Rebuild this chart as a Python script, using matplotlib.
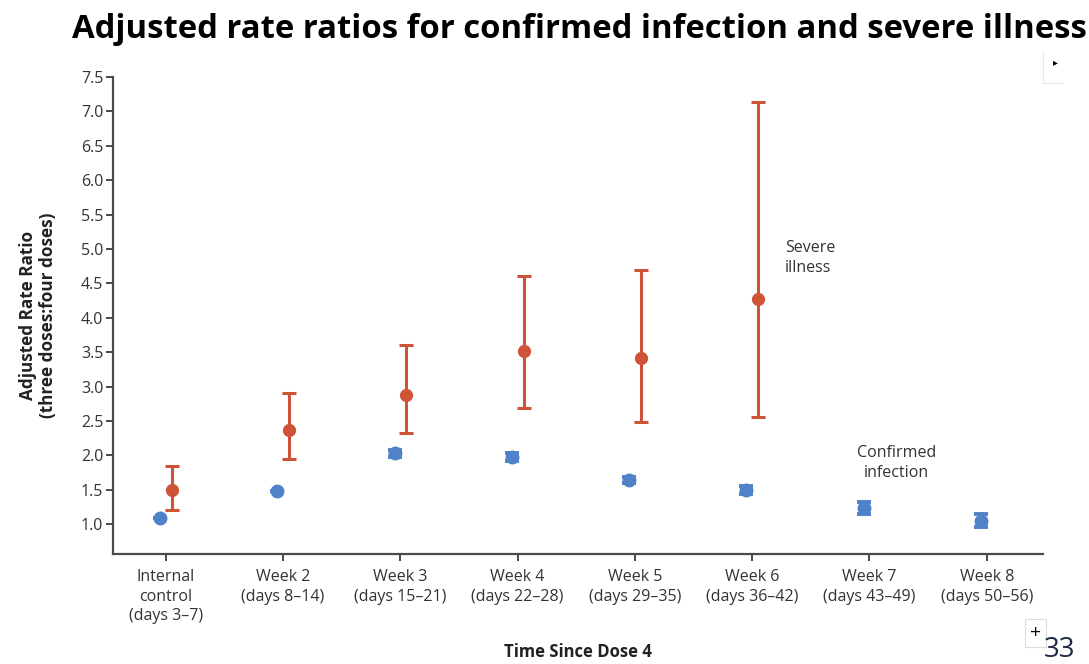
import matplotlib.pyplot as plt
import numpy as np

categories = ["Internal\ncontrol\n(days 3\u20137)", "Week 2\n(days 8\u201314)", "Week 3\n(days 15\u201321)",
              "Week 4\n(days 22\u201328)", "Week 5\n(days 29\u201335)", "Week 6\n(days 36\u201342)",
              "Week 7\n(days 43\u201349)", "Week 8\n(days 50\u201356)"]

# confirmed infection (blue)
infection = [1.09, 1.48, 2.03, 1.97, 1.64, 1.49, 1.23, 1.05]
infection_lo = [1.09, 1.48, 1.98, 1.91, 1.60, 1.43, 1.15, 0.96]
infection_hi = [1.09, 1.48, 2.08, 2.03, 1.69, 1.56, 1.32, 1.14]

# severe illness (red), only internal control to week 6
severe = [1.49, 2.37, 2.88, 3.51, 3.42, 4.27]
severe_lo = [1.20, 1.94, 2.32, 2.69, 2.48, 2.56]
severe_hi = [1.84, 2.90, 3.60, 4.61, 4.70, 7.14]

yticks = np.arange(1.0, 7.51, 0.5)

red = "#cd5437"
blue = "#4f82c8"
axis_col = "#4a4a4a"

plt.rcParams["font.family"] = ["Open Sans", "DejaVu Sans"]

fig = plt.figure(figsize=(10.89, 6.64), dpi=100)
ax = fig.add_axes([0.1038, 0.1657, 0.854, 0.7183])

x = np.arange(len(categories))
xi = x - 0.05
xs = x[:len(severe)] + 0.05

inf = np.array(infection)
ax.errorbar(xi, inf, yerr=[inf - np.array(infection_lo), np.array(infection_hi) - inf],
            fmt="o", color=blue, ms=9, elinewidth=2.5, capsize=5, capthick=2.8, zorder=3)
sev = np.array(severe)
ax.errorbar(xs, sev, yerr=[sev - np.array(severe_lo), np.array(severe_hi) - sev],
            fmt="o", color=red, ms=8.5, elinewidth=2.2, capsize=5, capthick=2.2, zorder=3)

ax.set_xlim(-0.45, 7.48)
ax.set_ylim(0.565, 7.5)
ax.set_xticks(x)
ax.set_xticklabels(categories, fontsize=11.5, color="#333333", linespacing=1.3)
ax.set_yticks(yticks)
ax.set_yticklabels([f"{v:.1f}" for v in yticks], fontsize=11.5, color="#333333")

for s in ["top", "right"]:
    ax.spines[s].set_visible(False)
for s in ["left", "bottom"]:
    ax.spines[s].set_color(axis_col)
    ax.spines[s].set_linewidth(1.6)
ax.tick_params(axis="both", colors=axis_col, width=1.4, length=5, labelcolor="#333333")
ax.tick_params(axis="x", pad=6)
ax.tick_params(axis="y", pad=2)

ax.set_ylabel("Adjusted Rate Ratio\n(three doses:four doses)", fontsize=12.3, fontweight="bold",
              color="#222222", labelpad=17, linespacing=1.15)
fig.text(0.531, 0.018, "Time Since Dose 4", fontsize=12, fontweight="bold", color="#222222",
         ha="center", va="center")

ax.text(5.28, 4.87, "Severe\nillness", fontsize=11.5, color="#333333", ha="left", va="center",
        linespacing=1.3)
ax.text(6.23, 1.89, "Confirmed\ninfection", fontsize=11.5, color="#333333", ha="center", va="center",
        linespacing=1.3)

fig.text(0.066, 0.955, "Adjusted rate ratios for confirmed infection and severe illness",
         fontsize=23.7, fontweight="bold", color="black", ha="left", va="center")

# slide decorations
fig.text(0.951, 0.047, "+", fontsize=14, color="black", ha="center", va="center",
         bbox=dict(boxstyle="square,pad=0.25", fc="white", ec="#dddddd", lw=0.8))
fig.text(0.973, 0.0, "33", fontsize=20, color="#1f2a44", ha="center", va="bottom")
fig.text(0.969, 0.906, "\u25b8", fontsize=7, color="black", ha="center", va="center",
         family="DejaVu Sans")
fig.add_artist(plt.Line2D([0.958, 0.958, 0.975], [0.922, 0.875, 0.875],
                          transform=fig.transFigure, color="#e6e6e6", lw=0.8))

fig.savefig("out.png", dpi=100)
